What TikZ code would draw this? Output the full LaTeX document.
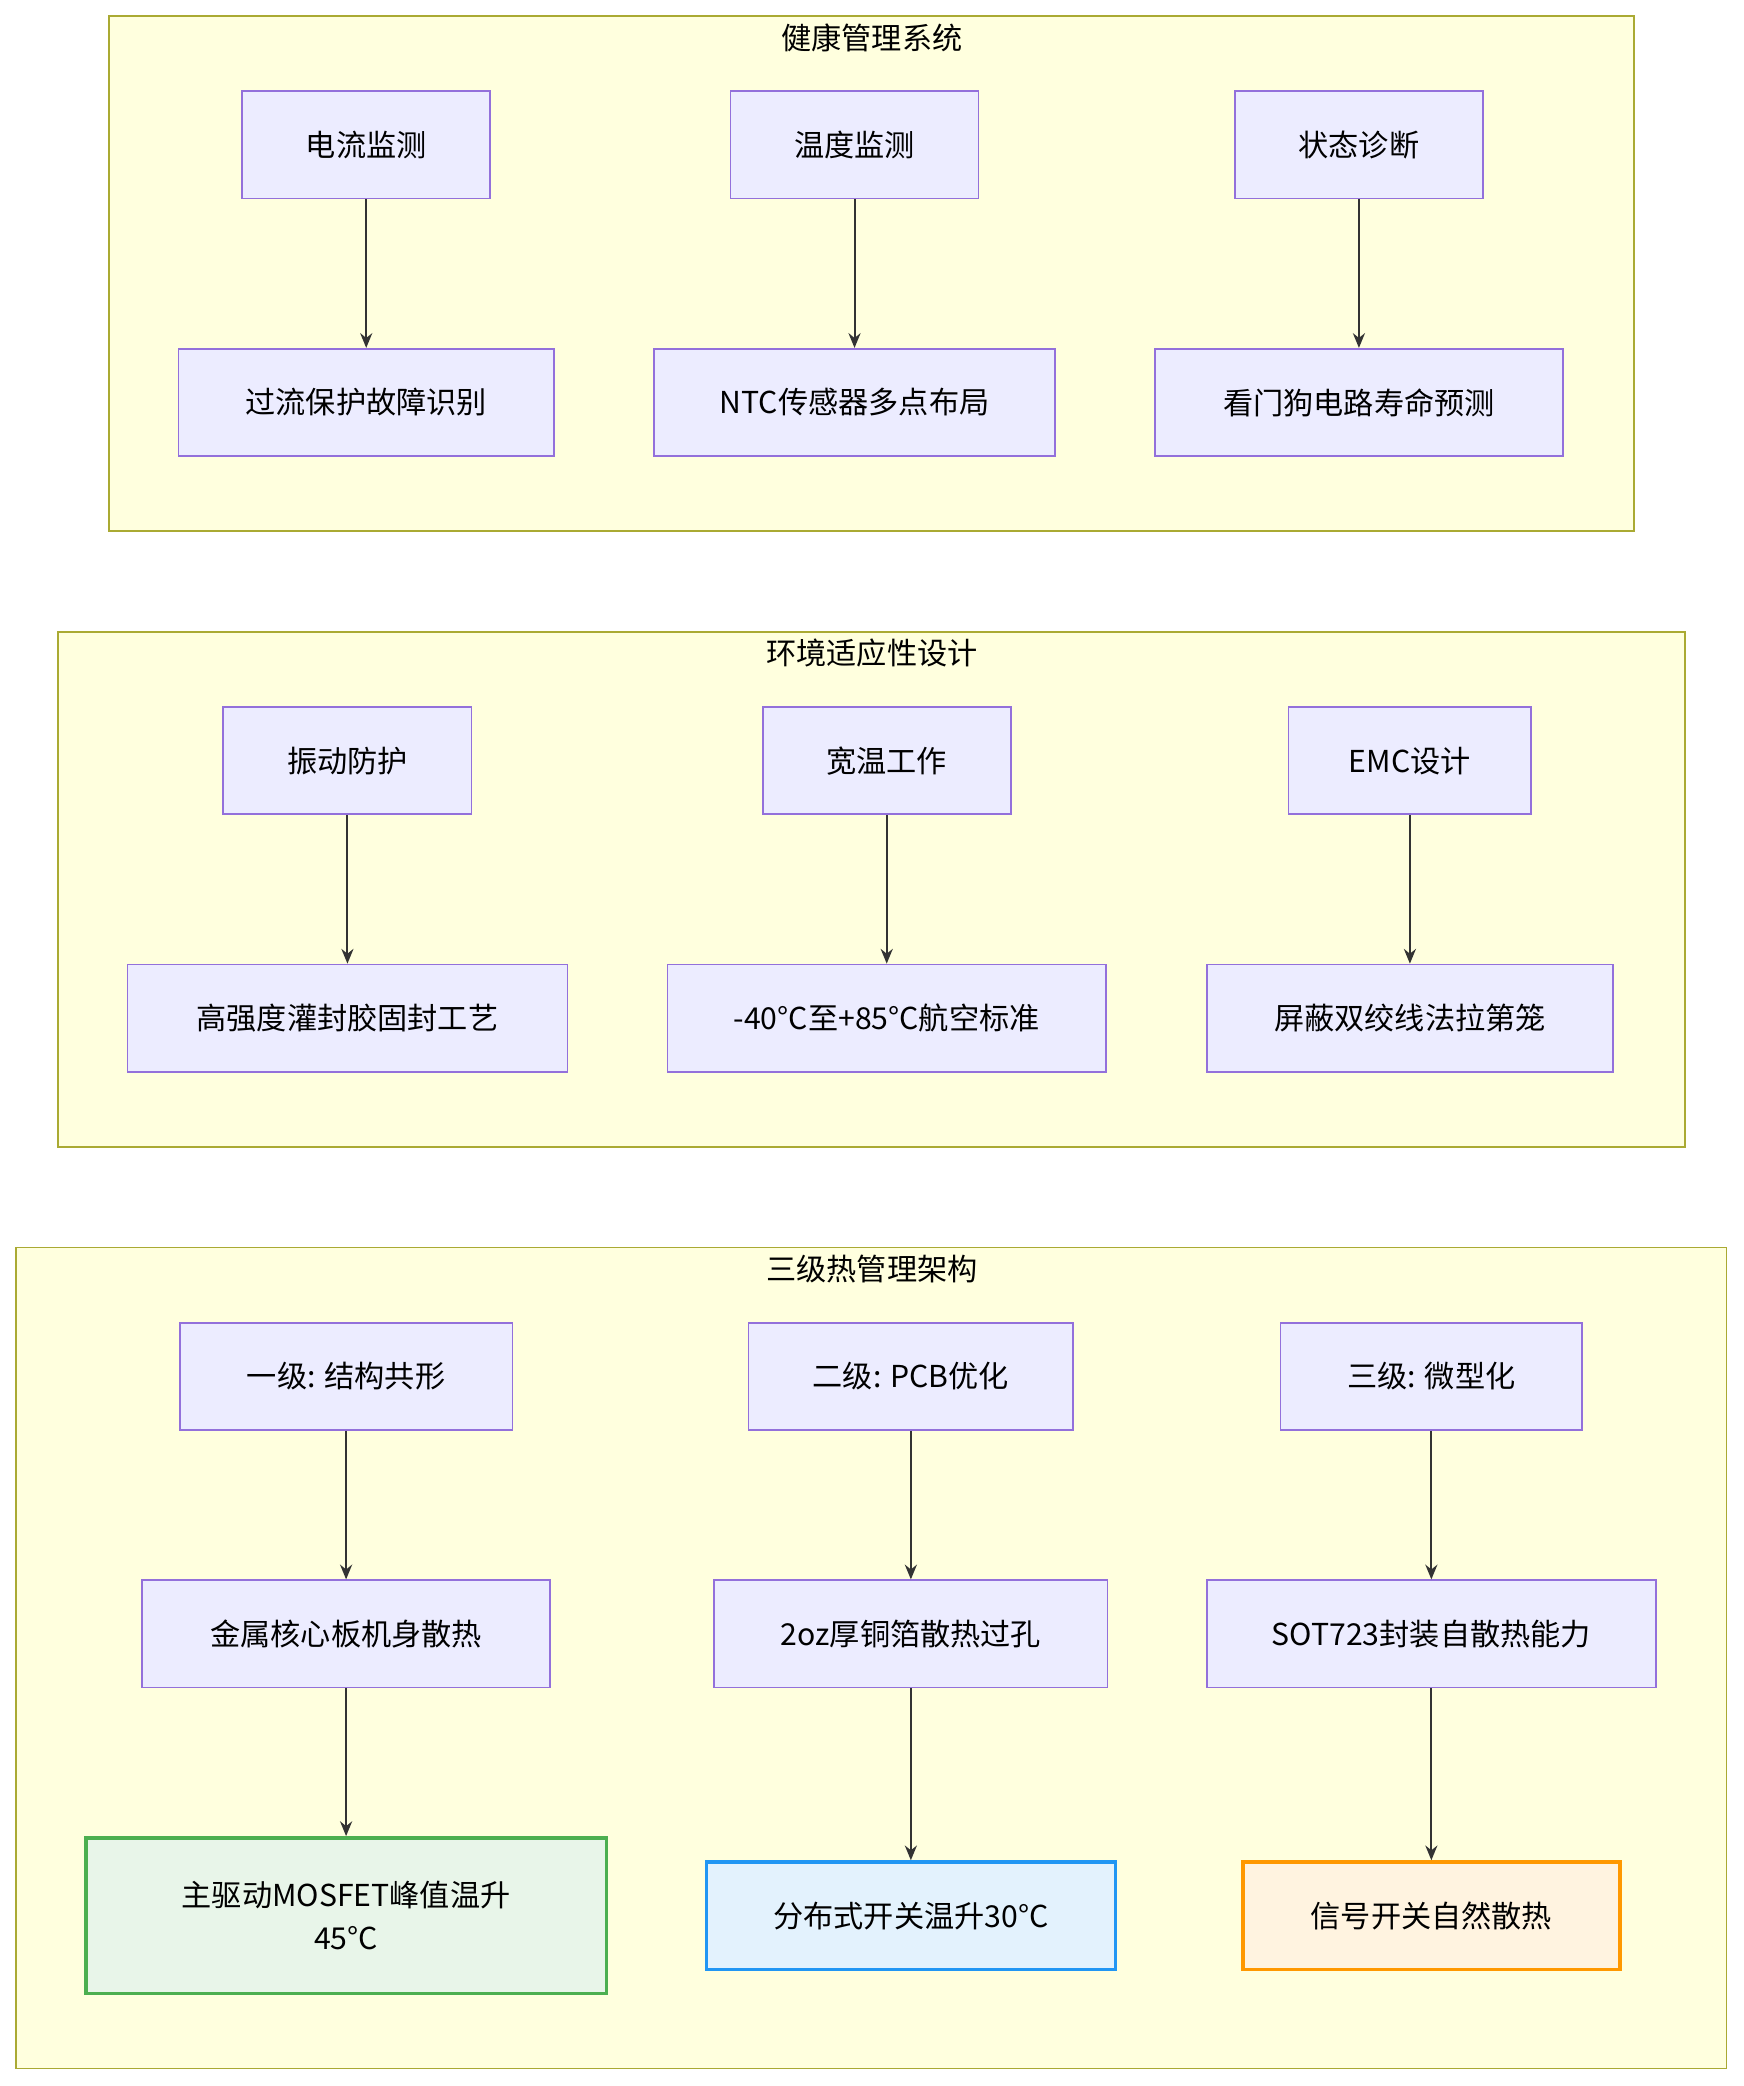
\documentclass[tikz,border=0pt]{standalone}
\usepackage{fontspec}
\setmainfont{Noto Sans CJK SC}
\usetikzlibrary{arrows.meta}
\definecolor{box_fill}{HTML}{ECECFF}
\definecolor{box_line}{HTML}{9370DB}
\definecolor{grp_fill}{HTML}{FFFFDE}
\definecolor{grp_line}{HTML}{AAAA33}
\definecolor{arr_col}{HTML}{333333}

\tikzset{
	box/.style={draw=box_line, fill=box_fill, line width=1.3pt, minimum height=80pt, inner sep=0pt, align=center, font=\fontsize{22.5}{32}\selectfont},
	grp/.style={draw=grp_line, fill=grp_fill, line width=1.3pt},
	ttl/.style={font=\fontsize{22.5}{26}\selectfont},
	arr/.style={draw=arr_col, line width=1.5pt, -{Stealth[length=11pt,width=9pt]}}
}

\begin{document}
\begin{tikzpicture}[x=1pt, y=-1pt]
	\useasboundingbox (0, 0) rectangle (1300, 1555);
	% groups
	\draw[grp] (81, 12) rectangle (1218, 396);
	\node[ttl] (t1) at (650, 28) {健康管理系统};
	\draw[grp] (43, 471) rectangle (1256, 855);
	\node[ttl] (t2) at (650, 487) {环境适应性设计};
	\draw[grp] (12, 930) rectangle (1287, 1542);
	\node[ttl] (t3) at (650, 946) {三级热管理架构};
	% health
	\node[box, minimum width=185pt] (cur) at (273, 108) {电流监测};
	\node[box, minimum width=185pt] (tmp) at (637, 108) {温度监测};
	\node[box, minimum width=185pt] (sta) at (1013, 108) {状态诊断};
	\node[box, minimum width=280pt] (ocp) at (273, 300) {过流保护故障识别};
	\node[box, minimum width=299pt] (ntc) at (637, 300) {NTC传感器多点布局};
	\node[box, minimum width=304pt] (wdg) at (1013, 300) {看门狗电路寿命预测};
	% environment
	\node[box, minimum width=185pt] (vib) at (259, 567) {振动防护};
	\node[box, minimum width=185pt] (wide) at (661, 567) {宽温工作};
	\node[box, minimum width=181pt] (emc) at (1051, 567) {EMC设计};
	\node[box, minimum width=328pt] (pot) at (259, 759) {高强度灌封胶固封工艺};
	\node[box, minimum width=327pt] (std) at (661, 759) {-40°C至+85°C航空标准};
	\node[box, minimum width=303pt] (shd) at (1051, 759) {屏蔽双绞线法拉第笼};
	% thermal
	\node[box, minimum width=248pt] (lv1) at (258, 1026) {一级: 结构共形};
	\node[box, minimum width=242pt] (lv2) at (679, 1026) {二级: PCB优化};
	\node[box, minimum width=225pt] (lv3) at (1067, 1026) {三级: 微型化};
	\node[box, minimum width=304pt] (mcb) at (258, 1218) {金属核心板机身散热};
	\node[box, minimum width=293pt] (cu) at (679, 1218) {2oz厚铜箔散热过孔};
	\node[box, minimum width=335pt] (sot) at (1067, 1218) {SOT723封装自散热能力};
	\node[box, minimum width=388pt, minimum height=116pt, draw={rgb,255:red,76;green,175;blue,80}, fill={rgb,255:red,232;green,245;blue,233}, line width=2.6pt] (mos) at (258, 1428) {主驱动MOSFET峰值温升\\45°C};
	\node[box, minimum width=305pt, draw={rgb,255:red,33;green,150;blue,243}, fill={rgb,255:red,227;green,242;blue,253}, line width=2.6pt] (dsw) at (679, 1428) {分布式开关温升30°C};
	\node[box, minimum width=281pt, draw={rgb,255:red,255;green,152;blue,0}, fill={rgb,255:red,255;green,243;blue,224}, line width=2.6pt] (sig) at (1067, 1428) {信号开关自然散热};
	% arrows
	\foreach \a/\b in {cur/ocp, tmp/ntc, sta/wdg, vib/pot, wide/std, emc/shd, lv1/mcb, lv2/cu, lv3/sot, mcb/mos, cu/dsw, sot/sig}
		\draw[arr] (\a) -- (\b);
\end{tikzpicture}
\end{document}
